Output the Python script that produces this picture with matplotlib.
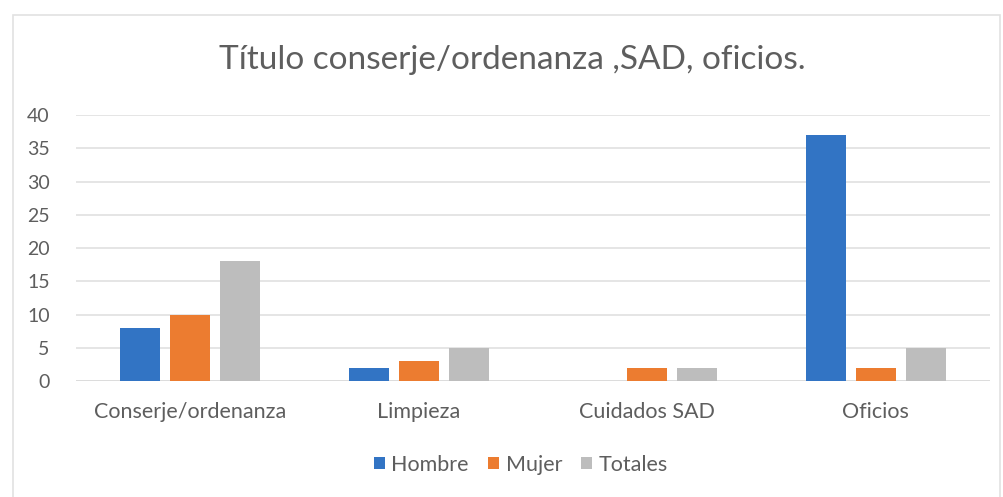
import numpy as np
import matplotlib.pyplot as plt
from matplotlib.patches import Rectangle

categorias = ['Conserje/ordenanza', 'Limpieza', 'Cuidados SAD', 'Oficios']
hombre = [8, 2, 0, 37]
mujer = [10, 3, 2, 2]
totales = [18, 5, 2, 5]
series = ['Hombre', 'Mujer', 'Totales']

colores = ['#3274c4', '#ec7c30', '#bdbdbd']
gris_texto = '#5e5e5e'

plt.rcParams['font.family'] = ['Lato', 'DejaVu Sans']

fig = plt.figure(figsize=(10.04, 4.97), dpi=100)
ax = fig.add_axes([0.0757, 0.2334, 0.9103, 0.5352])

# marco del area del grafico
fig.patches.append(Rectangle((13 / 1004, -0.05), 987 / 1004, 1 - 15 / 497 + 0.05,
                             transform=fig.transFigure, fill=False,
                             edgecolor='#e2e2e2', linewidth=1.2))

x = np.arange(len(categorias))
ancho = 0.175
paso = 0.218
for i, (valores, nombre) in enumerate(zip([hombre, mujer, totales], series)):
    ax.bar(x + (i - 1) * paso, valores, ancho, color=colores[i], label=nombre, zorder=3)

ax.set_xlim(-0.5, len(categorias) - 0.5)
ax.set_ylim(0, 40)
ax.set_yticks(range(0, 41, 5))
ax.set_xticks(x)
ax.set_xticklabels(categorias, fontsize=15.5)
ax.grid(axis='y', color='#e3e3e3', linewidth=1.3, zorder=0)
for s in ax.spines.values():
    s.set_visible(False)
ax.axhline(0, color='#dcdcdc', linewidth=1.3, zorder=2)
ax.tick_params(axis='both', length=0, colors=gris_texto)
ax.tick_params(axis='x', pad=15)
ax.tick_params(axis='y', pad=19, labelsize=14)

fig.text(0.51, 0.88, 'Título conserje/ordenanza ,SAD, oficios.', ha='center',
         va='center', fontsize=24, color=gris_texto)

ax.legend(loc='center', bbox_to_anchor=(0.487, -0.315), ncol=3, frameon=False,
          fontsize=15.5, handlelength=0.5, handleheight=0.5, handletextpad=0.3,
          columnspacing=0.9, labelcolor=gris_texto)

fig.savefig('out.png', dpi=100)
